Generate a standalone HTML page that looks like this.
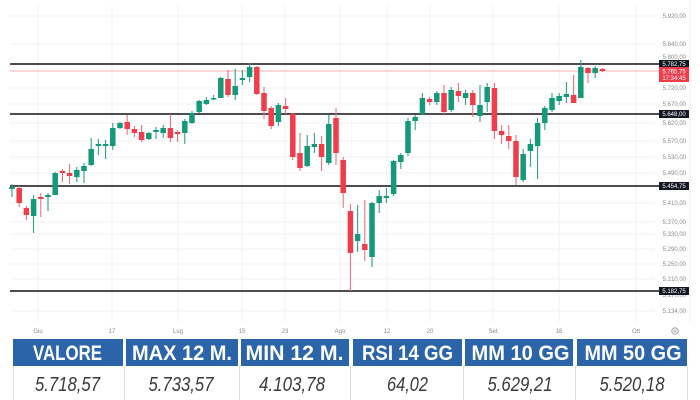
<!DOCTYPE html>
<html><head><meta charset="utf-8">
<style>
html,body{margin:0;padding:0;background:#fff;}
svg{display:block;}
.g line{stroke:#2aa386;stroke-width:1.1}
.g rect{fill:#14997a}
.r line{stroke:#f0707c;stroke-width:1.1}
.r rect{fill:#ef3d4c}
.pl{font-family:"Liberation Sans",sans-serif;font-size:6px;fill:#8a8a8a;text-anchor:end}
.dl{font-family:"Liberation Sans",sans-serif;font-size:6px;fill:#8a8a8a;text-anchor:middle}
.bx{font-family:"Liberation Sans",sans-serif;font-size:6px;fill:#fff;text-anchor:middle}
.hd{font-family:"Liberation Sans",sans-serif;font-size:21px;font-weight:bold;fill:#fff;text-anchor:middle}
.vl{font-family:"Liberation Sans",sans-serif;font-size:20px;font-style:italic;fill:#3a3a3a;text-anchor:middle}
</style></head>
<body>
<svg width="700" height="400" viewBox="0 0 700 400" xmlns="http://www.w3.org/2000/svg">
<rect x="0" y="0" width="700" height="400" fill="#fff"/>
<!-- grid -->
<g stroke="#f1f1f1" stroke-width="1">
<line x1="38" y1="5" x2="38" y2="322"/><line x1="112" y1="5" x2="112" y2="322"/><line x1="178" y1="5" x2="178" y2="322"/>
<line x1="242" y1="5" x2="242" y2="322"/><line x1="285" y1="5" x2="285" y2="322"/><line x1="340" y1="5" x2="340" y2="322"/>
<line x1="387" y1="5" x2="387" y2="322"/><line x1="430" y1="5" x2="430" y2="322"/><line x1="493" y1="5" x2="493" y2="322"/>
<line x1="559" y1="5" x2="559" y2="322"/><line x1="636" y1="5" x2="636" y2="322"/>
<line x1="10" y1="16" x2="655" y2="16"/><line x1="10" y1="44" x2="655" y2="44"/><line x1="10" y1="88" x2="655" y2="88"/>
<line x1="10" y1="104" x2="655" y2="104"/><line x1="10" y1="123" x2="655" y2="123"/><line x1="10" y1="141" x2="655" y2="141"/>
<line x1="10" y1="157" x2="655" y2="157"/><line x1="10" y1="173" x2="655" y2="173"/><line x1="10" y1="203" x2="655" y2="203"/>
<line x1="10" y1="222" x2="655" y2="222"/><line x1="10" y1="234" x2="655" y2="234"/><line x1="10" y1="249" x2="655" y2="249"/>
<line x1="10" y1="264" x2="655" y2="264"/><line x1="10" y1="279" x2="655" y2="279"/><line x1="10" y1="311" x2="655" y2="311"/>
</g>
<line x1="690" y1="0" x2="690" y2="322" stroke="#eeeeee" stroke-width="1"/>
<!-- level lines -->
<g stroke="#4d4d4d" stroke-width="2">
<line x1="10" y1="64" x2="659" y2="64"/>
<line x1="10" y1="114" x2="659" y2="114"/>
<line x1="10" y1="186" x2="659" y2="186"/>
<line x1="10" y1="291" x2="659" y2="291"/>
</g>
<line x1="10" y1="71" x2="659" y2="71" stroke="#f6b0b6" stroke-width="1"/>
<!-- candles -->
<g class="g"><line x1="12" y1="184" x2="12" y2="197"/><rect x="9.25" y="187" width="5.5" height="2"/></g>
<g class="r"><line x1="19.2" y1="186" x2="19.2" y2="207"/><rect x="16.45" y="188" width="5.5" height="15"/></g>
<g class="r"><line x1="26.4" y1="206" x2="26.4" y2="220"/><rect x="23.65" y="208" width="5.5" height="7"/></g>
<g class="g"><line x1="33.6" y1="195" x2="33.6" y2="233"/><rect x="30.85" y="199" width="5.5" height="17"/></g>
<g class="r"><line x1="40.8" y1="193" x2="40.8" y2="217"/><rect x="38.05" y="197" width="5.5" height="2"/></g>
<g class="g"><line x1="48" y1="193" x2="48" y2="211"/><rect x="45.25" y="195" width="5.5" height="2"/></g>
<g class="g"><line x1="55.2" y1="172" x2="55.2" y2="195"/><rect x="52.45" y="173" width="5.5" height="22"/></g>
<g class="r"><line x1="62.4" y1="169" x2="62.4" y2="182"/><rect x="59.65" y="171" width="5.5" height="2"/></g>
<g class="r"><line x1="69.6" y1="164" x2="69.6" y2="184"/><rect x="66.85" y="173" width="5.5" height="3"/></g>
<g class="g"><line x1="76.8" y1="167" x2="76.8" y2="182"/><rect x="74.05" y="170" width="5.5" height="7"/></g>
<g class="g"><line x1="84" y1="163" x2="84" y2="183"/><rect x="81.25" y="166" width="5.5" height="5"/></g>
<g class="g"><line x1="91.2" y1="138" x2="91.2" y2="166"/><rect x="88.45" y="149" width="5.5" height="16"/></g>
<g class="g"><line x1="98.4" y1="139" x2="98.4" y2="155"/><rect x="95.65" y="144" width="5.5" height="2"/></g>
<g class="g"><line x1="105.6" y1="140" x2="105.6" y2="159"/><rect x="102.85" y="144" width="5.5" height="2"/></g>
<g class="g"><line x1="112.8" y1="123" x2="112.8" y2="150"/><rect x="110.05" y="128" width="5.5" height="18"/></g>
<g class="g"><line x1="120" y1="122" x2="120" y2="129"/><rect x="117.25" y="123" width="5.5" height="5"/></g>
<g class="r"><line x1="127.2" y1="115" x2="127.2" y2="135"/><rect x="124.45" y="122" width="5.5" height="7"/></g>
<g class="r"><line x1="134.4" y1="126" x2="134.4" y2="137"/><rect x="131.65" y="129" width="5.5" height="4"/></g>
<g class="r"><line x1="141.6" y1="125" x2="141.6" y2="142"/><rect x="138.85" y="132" width="5.5" height="8"/></g>
<g class="g"><line x1="148.8" y1="132" x2="148.8" y2="140"/><rect x="146.05" y="133" width="5.5" height="6"/></g>
<g class="g"><line x1="156" y1="127" x2="156" y2="139"/><rect x="153.25" y="130" width="5.5" height="2"/></g>
<g class="g"><line x1="163.2" y1="125" x2="163.2" y2="138"/><rect x="160.45" y="128" width="5.5" height="5"/></g>
<g class="r"><line x1="170.4" y1="114" x2="170.4" y2="142"/><rect x="167.65" y="128" width="5.5" height="10"/></g>
<g class="r"><line x1="177.6" y1="130" x2="177.6" y2="142"/><rect x="174.85" y="132" width="5.5" height="2"/></g>
<g class="g"><line x1="184.8" y1="119" x2="184.8" y2="144"/><rect x="182.05" y="121" width="5.5" height="12"/></g>
<g class="g"><line x1="192" y1="111" x2="192" y2="124"/><rect x="189.25" y="113" width="5.5" height="10"/></g>
<g class="g"><line x1="199.2" y1="100" x2="199.2" y2="113"/><rect x="196.45" y="101" width="5.5" height="11"/></g>
<g class="g"><line x1="206.4" y1="97" x2="206.4" y2="105"/><rect x="203.65" y="100" width="5.5" height="4"/></g>
<g class="g"><line x1="213.6" y1="95" x2="213.6" y2="100"/><rect x="210.85" y="98" width="5.5" height="1.5"/></g>
<g class="g"><line x1="220.8" y1="77" x2="220.8" y2="98"/><rect x="218.05" y="78" width="5.5" height="20"/></g>
<g class="r"><line x1="228" y1="70" x2="228" y2="97"/><rect x="225.25" y="79" width="5.5" height="16"/></g>
<g class="g"><line x1="235.2" y1="69" x2="235.2" y2="100"/><rect x="232.45" y="86" width="5.5" height="9"/></g>
<g class="g"><line x1="242.4" y1="70" x2="242.4" y2="85"/><rect x="239.65" y="78" width="5.5" height="2"/></g>
<g class="g"><line x1="249.6" y1="63" x2="249.6" y2="82"/><rect x="246.85" y="67" width="5.5" height="10"/></g>
<g class="r"><line x1="256.8" y1="66" x2="256.8" y2="95"/><rect x="254.05" y="67" width="5.5" height="27"/></g>
<g class="r"><line x1="264" y1="87" x2="264" y2="119"/><rect x="261.25" y="93" width="5.5" height="18"/></g>
<g class="r"><line x1="271.2" y1="106" x2="271.2" y2="129"/><rect x="268.45" y="108" width="5.5" height="18"/></g>
<g class="g"><line x1="278.4" y1="103" x2="278.4" y2="126"/><rect x="275.65" y="105" width="5.5" height="17"/></g>
<g class="r"><line x1="285.6" y1="98" x2="285.6" y2="114"/><rect x="282.85" y="106" width="5.5" height="3"/></g>
<g class="r"><line x1="292.8" y1="113" x2="292.8" y2="160"/><rect x="290.05" y="114" width="5.5" height="43"/></g>
<g class="r"><line x1="300" y1="133" x2="300" y2="171"/><rect x="297.25" y="153" width="5.5" height="15"/></g>
<g class="g"><line x1="307.2" y1="135" x2="307.2" y2="167"/><rect x="304.45" y="146" width="5.5" height="20"/></g>
<g class="g"><line x1="314.4" y1="133" x2="314.4" y2="153"/><rect x="311.65" y="144" width="5.5" height="3"/></g>
<g class="r"><line x1="321.6" y1="136" x2="321.6" y2="171"/><rect x="318.85" y="144" width="5.5" height="13"/></g>
<g class="g"><line x1="328.8" y1="115" x2="328.8" y2="165"/><rect x="326.05" y="124" width="5.5" height="39"/></g>
<g class="r"><line x1="336" y1="108" x2="336" y2="165"/><rect x="333.25" y="118" width="5.5" height="35"/></g>
<g class="r"><line x1="343.2" y1="157" x2="343.2" y2="208"/><rect x="340.45" y="160" width="5.5" height="33"/></g>
<g class="r"><line x1="350.4" y1="204" x2="350.4" y2="291"/><rect x="347.65" y="211" width="5.5" height="42"/></g>
<g class="g"><line x1="357.6" y1="205" x2="357.6" y2="252"/><rect x="354.85" y="234" width="5.5" height="7"/></g>
<g class="r"><line x1="364.8" y1="200" x2="364.8" y2="261"/><rect x="362.05" y="244" width="5.5" height="6"/></g>
<g class="g"><line x1="372" y1="202" x2="372" y2="267"/><rect x="369.25" y="203" width="5.5" height="54"/></g>
<g class="g"><line x1="379.2" y1="190" x2="379.2" y2="213"/><rect x="376.45" y="196" width="5.5" height="7"/></g>
<g class="g"><line x1="386.4" y1="188" x2="386.4" y2="203"/><rect x="383.65" y="196" width="5.5" height="2"/></g>
<g class="g"><line x1="393.6" y1="160" x2="393.6" y2="196"/><rect x="390.85" y="161" width="5.5" height="33"/></g>
<g class="g"><line x1="400.8" y1="153" x2="400.8" y2="169"/><rect x="398.05" y="155" width="5.5" height="7"/></g>
<g class="g"><line x1="408" y1="118" x2="408" y2="156"/><rect x="405.25" y="121" width="5.5" height="32"/></g>
<g class="g"><line x1="415.2" y1="115" x2="415.2" y2="130"/><rect x="412.45" y="117" width="5.5" height="4"/></g>
<g class="g"><line x1="422.4" y1="93" x2="422.4" y2="115"/><rect x="419.65" y="98" width="5.5" height="16"/></g>
<g class="r"><line x1="429.6" y1="97" x2="429.6" y2="105"/><rect x="426.85" y="99" width="5.5" height="3"/></g>
<g class="g"><line x1="436.8" y1="91" x2="436.8" y2="105"/><rect x="434.05" y="93" width="5.5" height="9"/></g>
<g class="r"><line x1="444" y1="85" x2="444" y2="114"/><rect x="441.25" y="93" width="5.5" height="19"/></g>
<g class="g"><line x1="451.2" y1="87" x2="451.2" y2="112"/><rect x="448.45" y="90" width="5.5" height="20"/></g>
<g class="r"><line x1="458.4" y1="83" x2="458.4" y2="102"/><rect x="455.65" y="91" width="5.5" height="5"/></g>
<g class="g"><line x1="465.6" y1="90" x2="465.6" y2="105"/><rect x="462.85" y="93" width="5.5" height="5"/></g>
<g class="r"><line x1="472.8" y1="90" x2="472.8" y2="117"/><rect x="470.05" y="93" width="5.5" height="12"/></g>
<g class="g"><line x1="480" y1="85" x2="480" y2="122"/><rect x="477.25" y="105" width="5.5" height="11"/></g>
<g class="g"><line x1="487.2" y1="83" x2="487.2" y2="112"/><rect x="484.45" y="87" width="5.5" height="15"/></g>
<g class="r"><line x1="494.4" y1="83" x2="494.4" y2="139"/><rect x="491.65" y="88" width="5.5" height="43"/></g>
<g class="r"><line x1="501.6" y1="125" x2="501.6" y2="144"/><rect x="498.85" y="131" width="5.5" height="4"/></g>
<g class="r"><line x1="508.8" y1="125" x2="508.8" y2="149"/><rect x="506.05" y="136" width="5.5" height="5"/></g>
<g class="r"><line x1="516" y1="135" x2="516" y2="185"/><rect x="513.25" y="141" width="5.5" height="36"/></g>
<g class="g"><line x1="523.2" y1="149" x2="523.2" y2="182"/><rect x="520.45" y="154" width="5.5" height="26"/></g>
<g class="g"><line x1="530.4" y1="139" x2="530.4" y2="167"/><rect x="527.65" y="144" width="5.5" height="7"/></g>
<g class="g"><line x1="537.6" y1="118" x2="537.6" y2="179"/><rect x="534.85" y="123" width="5.5" height="23"/></g>
<g class="g"><line x1="544.8" y1="106" x2="544.8" y2="130"/><rect x="542.05" y="108" width="5.5" height="15"/></g>
<g class="g"><line x1="552" y1="93" x2="552" y2="112"/><rect x="549.25" y="98" width="5.5" height="12"/></g>
<g class="g"><line x1="559.2" y1="93" x2="559.2" y2="105"/><rect x="556.45" y="96" width="5.5" height="5"/></g>
<g class="g"><line x1="566.4" y1="82" x2="566.4" y2="103"/><rect x="563.65" y="94" width="5.5" height="3"/></g>
<g class="r"><line x1="573.6" y1="75" x2="573.6" y2="103"/><rect x="570.85" y="95" width="5.5" height="8"/></g>
<g class="g"><line x1="580.8" y1="60" x2="580.8" y2="98"/><rect x="578.05" y="67" width="5.5" height="31"/></g>
<g class="r"><line x1="588" y1="67" x2="588" y2="83"/><rect x="585.25" y="68" width="5.5" height="5"/></g>
<g class="g"><line x1="595.2" y1="66" x2="595.2" y2="78"/><rect x="592.45" y="68" width="5.5" height="5"/></g>
<g class="r"><line x1="602.4" y1="68" x2="602.4" y2="72"/><rect x="599.65" y="69" width="5.5" height="2"/></g>
<!-- price labels -->
<text class="pl" x="686" y="18">5.920,00</text>
<text class="pl" x="686" y="46">5.840,00</text>
<text class="pl" x="686" y="59">5.800,00</text>
<text class="pl" x="686" y="90">5.720,00</text>
<text class="pl" x="686" y="106">5.670,00</text>
<text class="pl" x="686" y="125">5.620,00</text>
<text class="pl" x="686" y="143">5.570,00</text>
<text class="pl" x="686" y="159">5.530,00</text>
<text class="pl" x="686" y="175">5.490,00</text>
<text class="pl" x="686" y="205">5.410,00</text>
<text class="pl" x="686" y="224">5.370,00</text>
<text class="pl" x="686" y="236">5.330,00</text>
<text class="pl" x="686" y="251">5.290,00</text>
<text class="pl" x="686" y="266">5.250,00</text>
<text class="pl" x="686" y="281">5.210,00</text>
<text class="pl" x="686" y="297">5.170,00</text>
<text class="pl" x="686" y="313">5.134,00</text>
<!-- label boxes -->
<rect x="659" y="60" width="30" height="8" fill="#131722"/>
<text class="bx" x="674" y="66.2">5.782,75</text>
<rect x="659" y="67" width="30" height="15" fill="#ef3d4c"/>
<text class="bx" x="674" y="73.5">5.765,75</text>
<text class="bx" x="674" y="80">17:34:45</text>
<rect x="659" y="110" width="30" height="8" fill="#131722"/>
<text class="bx" x="674" y="116.2">5.648,00</text>
<rect x="659" y="182" width="30" height="8" fill="#131722"/>
<text class="bx" x="674" y="188.2">5.454,75</text>
<rect x="659" y="287" width="30" height="8" fill="#131722"/>
<text class="bx" x="674" y="293.2">5.182,75</text>
<!-- date labels -->
<text class="dl" x="38" y="333">Giu</text>
<text class="dl" x="112" y="333">17</text>
<text class="dl" x="178" y="333">Lug</text>
<text class="dl" x="242" y="333">15</text>
<text class="dl" x="285" y="333">23</text>
<text class="dl" x="340" y="333">Ago</text>
<text class="dl" x="387" y="333">12</text>
<text class="dl" x="430" y="333">20</text>
<text class="dl" x="493" y="333">Set</text>
<text class="dl" x="559" y="333">16</text>
<text class="dl" x="636" y="333">Ott</text>
<circle cx="675" cy="331" r="3.2" fill="none" stroke="#9a9a9a" stroke-width="0.9"/>
<circle cx="675" cy="331" r="1.2" fill="none" stroke="#9a9a9a" stroke-width="0.7"/>
<!-- table header -->
<g fill="#2b64a8">
<rect x="13" y="339" width="110" height="27"/>
<rect x="126" y="339" width="112" height="27"/>
<rect x="241" y="339" width="108" height="27"/>
<rect x="353" y="339" width="109" height="27"/>
<rect x="465" y="339" width="108" height="27"/>
<rect x="577" y="339" width="110" height="27"/>
</g>
<text class="hd" x="67.5" y="360" textLength="69" lengthAdjust="spacingAndGlyphs">VALORE</text>
<text class="hd" x="182" y="360" textLength="100" lengthAdjust="spacingAndGlyphs">MAX 12 M.</text>
<text class="hd" x="294.5" y="360" textLength="98" lengthAdjust="spacingAndGlyphs">MIN 12 M.</text>
<text class="hd" x="407.5" y="360" textLength="91" lengthAdjust="spacingAndGlyphs">RSI 14 GG</text>
<text class="hd" x="520.5" y="360" textLength="98" lengthAdjust="spacingAndGlyphs">MM 10 GG</text>
<text class="hd" x="633" y="360" textLength="97" lengthAdjust="spacingAndGlyphs">MM 50 GG</text>
<!-- value row -->
<g stroke="#dddddd" stroke-width="1">
<line x1="13.5" y1="366" x2="13.5" y2="400"/>
<line x1="124.5" y1="366" x2="124.5" y2="400"/>
<line x1="239.5" y1="366" x2="239.5" y2="400"/>
<line x1="350.5" y1="366" x2="350.5" y2="400"/>
<line x1="463.5" y1="366" x2="463.5" y2="400"/>
<line x1="575.5" y1="366" x2="575.5" y2="400"/>
<line x1="687.5" y1="366" x2="687.5" y2="400"/>
</g>
<text class="vl" x="67.5" y="391" textLength="65" lengthAdjust="spacingAndGlyphs">5.718,57</text>
<text class="vl" x="181" y="391" textLength="65" lengthAdjust="spacingAndGlyphs">5.733,57</text>
<text class="vl" x="292" y="391" textLength="66" lengthAdjust="spacingAndGlyphs">4.103,78</text>
<text class="vl" x="407.5" y="391" textLength="41" lengthAdjust="spacingAndGlyphs">64,02</text>
<text class="vl" x="520" y="391" textLength="65" lengthAdjust="spacingAndGlyphs">5.629,21</text>
<text class="vl" x="632" y="391" textLength="65" lengthAdjust="spacingAndGlyphs">5.520,18</text>
</svg>
</body></html>
